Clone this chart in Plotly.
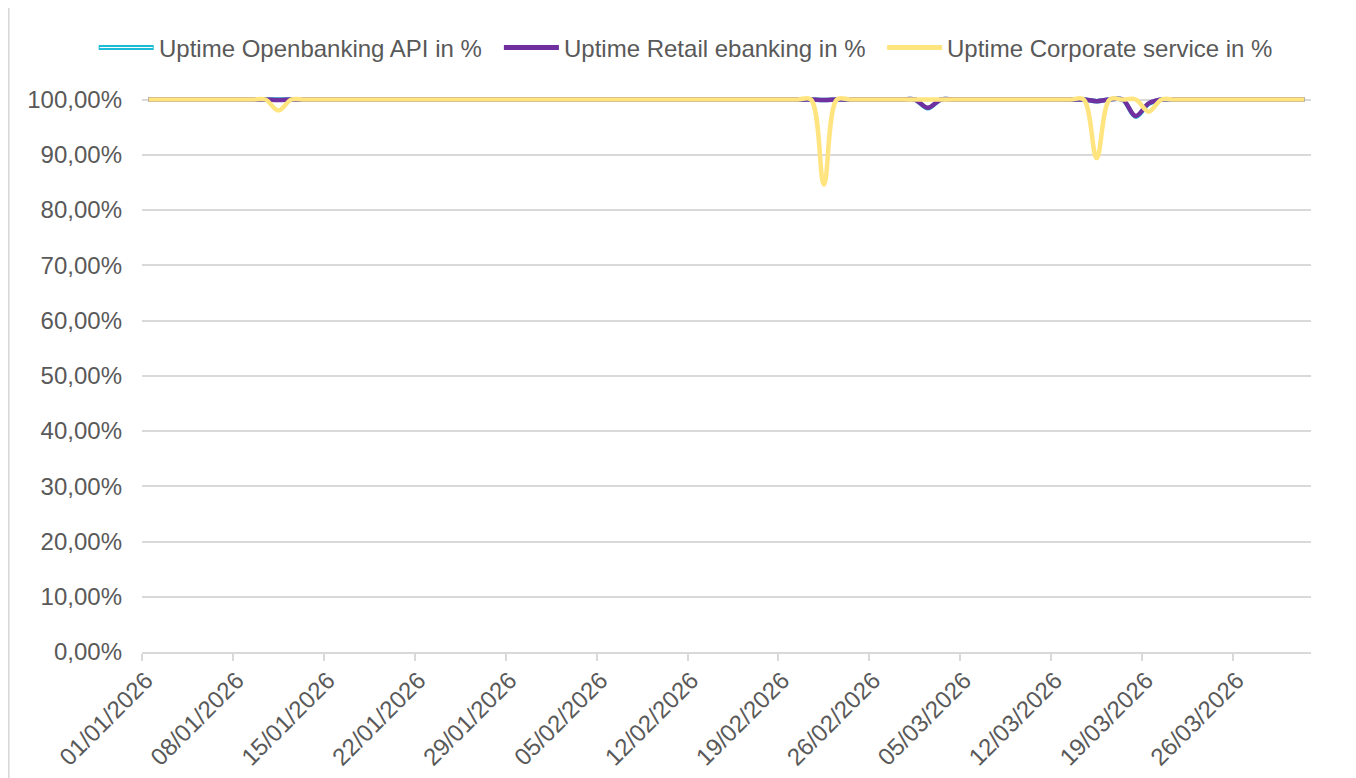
import pandas as pd
import plotly.graph_objects as go

# ---- data ----
dates = pd.date_range("2026-01-01", "2026-03-31", freq="D")

openbanking = [
    100, 100, 100, 100, 100, 100, 100, 100, 100, 100,
    100, 100, 100, 100, 100, 100, 100, 100, 100, 100,
    100, 100, 100, 100, 100, 100, 100, 100, 100, 100,
    100, 100, 100, 100, 100, 100, 100, 100, 100, 100,
    100, 100, 100, 100, 100, 100, 100, 100, 100, 100,
    100, 100, 99.9, 100, 100, 100, 100, 100, 100, 100,
    98.4, 100, 100, 100, 100, 100, 100, 100, 100, 100,
    100, 100, 100, 99.7, 100, 100, 96.9, 99.2, 100, 100,
    100, 100, 100, 100, 100, 100, 100, 100, 100, 100,
]
retail = [
    100, 100, 100, 100, 100, 100, 100, 100, 100, 100,
    99.9, 100, 100, 100, 100, 100, 100, 100, 100, 100,
    100, 100, 100, 100, 100, 100, 100, 100, 100, 100,
    100, 100, 100, 100, 100, 100, 100, 100, 100, 100,
    100, 100, 100, 100, 100, 100, 100, 100, 100, 100,
    100, 100, 99.9, 100, 100, 100, 100, 100, 100, 100,
    98.5, 100, 100, 100, 100, 100, 100, 100, 100, 100,
    100, 100, 100, 99.7, 100, 100, 97.0, 99.3, 100, 100,
    100, 100, 100, 100, 100, 100, 100, 100, 100, 100,
]
corporate = [
    100, 100, 100, 100, 100, 100, 100, 100, 100, 100,
    98.0, 100, 100, 100, 100, 100, 100, 100, 100, 100,
    100, 100, 100, 100, 100, 100, 100, 100, 100, 100,
    100, 100, 100, 100, 100, 100, 100, 100, 100, 100,
    100, 100, 100, 100, 100, 100, 100, 100, 100, 100,
    100, 100, 84.6, 100, 100, 100, 100, 100, 100, 100,
    100, 100, 100, 100, 100, 100, 100, 100, 100, 100,
    100, 100, 100, 89.4, 100, 100, 100, 97.8, 100, 100,
    100, 100, 100, 100, 100, 100, 100, 100, 100, 100,
]
series_names = ["Uptime Openbanking API in %", "Uptime Retail ebanking in %",
                "Uptime Corporate service in %"]
y_ticks = [0, 10, 20, 30, 40, 50, 60, 70, 80, 90, 100]
y_ticktext = ["0,00%", "10,00%", "20,00%", "30,00%", "40,00%", "50,00%",
              "60,00%", "70,00%", "80,00%", "90,00%", "100,00%"]
x_tickdates = pd.date_range("2026-01-01", "2026-03-26", freq="7D")

# ---- style ----
FONT = "Liberation Sans, Arial, sans-serif"
TXT = "#595959"
GRID = "#d9d9d9"
colors = ["#1cbcd8", "#7030a0", "#ffe47f"]
FS = 24
OFF = 8  # page body margin

# points sit in the middle of each day (date axis "between tick marks")
x_plot = dates + pd.Timedelta(hours=12)

fig = go.Figure()
for name, vals, col in zip(series_names, [openbanking, retail, corporate], colors):
    fig.add_trace(go.Scatter(
        x=x_plot, y=vals, name=name, mode="lines", showlegend=False,
        line=dict(color=col, width=4.5, shape="spline", smoothing=1.0),
    ))

FW, FH = 1356 - OFF, 778 - OFF
# page-pixel plot area
L, R, T, B = 142.3, 1310.7, 93.5, 651.7
W, H = R - L, B - T

def px(x):
    return (x - L) / W

def py(y):
    return (B - y) / H

fig.update_layout(
    width=FW, height=FH,
    margin=dict(l=L - OFF, r=FW - (R - OFF), t=T - OFF, b=FH - (B - OFF), pad=0,
                autoexpand=False),
    paper_bgcolor="white", plot_bgcolor="white",
    font=dict(family=FONT, size=FS, color=TXT),
    showlegend=False,
    xaxis=dict(
        type="date", range=["2026-01-01", "2026-04-01"], automargin=False,
        tickvals=list(x_tickdates),
        ticktext=[d.strftime("%d/%m/%Y") for d in x_tickdates],
        tickangle=-45, ticks="outside", ticklen=7, tickcolor=GRID, tickwidth=1.5,
        ticklabelshift=4, ticklabelstandoff=-4,
        showline=True, linecolor=GRID, linewidth=1.5, showgrid=False,
        zeroline=False, tickfont=dict(size=FS, color=TXT, family=FONT),
    ),
    yaxis=dict(
        range=[0, 100 * H / (B - 99)], tickvals=y_ticks, ticktext=y_ticktext,
        automargin=False,
        showgrid=True, gridcolor=GRID, gridwidth=1.5, zeroline=False,
        showline=False, ticks="", ticklabelstandoff=19,
        tickfont=dict(size=FS, color=TXT, family=FONT),
    ),
)

# chart-area border
fig.add_shape(type="rect", xref="paper", yref="paper",
              x0=px(9), x1=px(1350), y0=py(800), y1=py(1),
              line=dict(color=GRID, width=2), fillcolor="rgba(0,0,0,0)", layer="below")

# legend (drawn manually to match long line symbols)
legend_sym_x = [(99, 154), (504, 559), (887, 942)]
legend_y = 47
for (x0, x1), name, col in zip(legend_sym_x, series_names, colors):
    fig.add_shape(type="line", xref="paper", yref="paper",
                  x0=px(x0), x1=px(x1), y0=py(legend_y), y1=py(legend_y),
                  line=dict(color=col, width=5))
    fig.add_annotation(text=name, xref="paper", yref="paper",
                       x=px(x1 + 3), y=py(legend_y + 1), xanchor="left", yanchor="middle",
                       showarrow=False, font=dict(size=FS, color=TXT, family=FONT))
# double-line look of the first legend symbol
fig.add_shape(type="line", xref="paper", yref="paper",
              x0=px(legend_sym_x[0][0] + 1), x1=px(legend_sym_x[0][1] - 1),
              y0=py(legend_y), y1=py(legend_y),
              line=dict(color="white", width=1))

fig.write_html("out.html")
